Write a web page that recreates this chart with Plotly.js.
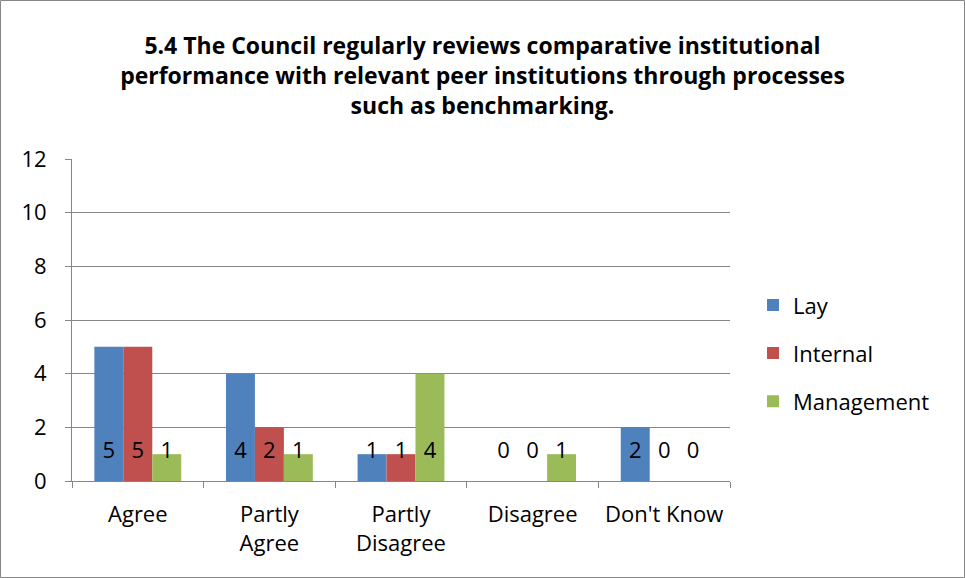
<!DOCTYPE html>
<html>
<head>
<meta charset="utf-8">
<script src="https://cdn.plot.ly/plotly-3.0.1.min.js"></script>
<style>html,body{margin:0;padding:0;background:#fff;}#chart{width:965px;height:578px;}</style>
</head>
<body>
<div id="chart"></div>
<script>
const categories = ["Agree", "Partly<br>Agree", "Partly<br>Disagree", "Disagree", "Don't Know"];
const seriesNames = ["Lay", "Internal", "Management"];
const lay = [5, 4, 1, 0, 2];
const internal = [5, 2, 1, 0, 0];
const management = [1, 1, 4, 1, 0];
const yTicks = [0, 2, 4, 6, 8, 10, 12];
const titleText = "5.4 The Council regularly reviews comparative institutional<br>performance with relevant peer institutions through processes<br>such as benchmarking.";

const colors = ["#4F81BD", "#C0504D", "#9BBB59"];
const seriesValues = [lay, internal, management];
const FONT = "'Open Sans', Lato, sans-serif";
const LABEL_Y = 1.05;

const W = 965, H = 578;
const M = {l: 72, r: 235, t: 159, b: 97};
const pw = W - M.l - M.r, ph = H - M.t - M.b;

const traces = [];
seriesValues.forEach((vals, i) => {
  traces.push({
    type: "bar", name: seriesNames[i], x: categories, y: vals,
    marker: {color: colors[i], line: {width: 0}},
    offsetgroup: String(i), legendgroup: String(i),
    hoverinfo: "skip"
  });
});
seriesValues.forEach((vals, i) => {
  traces.push({
    type: "scatter", mode: "text", x: categories, y: vals.map(() => LABEL_Y),
    text: vals.map(String), textposition: "middle center",
    textfont: {family: FONT, size: 22, color: "#000"},
    offsetgroup: String(i), showlegend: false, hoverinfo: "skip", cliponaxis: false
  });
});

const layout = {
  width: W, height: H,
  margin: M,
  paper_bgcolor: "#fff", plot_bgcolor: "#fff",
  font: {family: FONT, size: 22, color: "#000"},
  title: {text: titleText, font: {family: FONT, size: 23, color: "#000", weight: "bold", lineposition: "none"},
          x: 0.5, xref: "container", xanchor: "center", y: 1 - 54/H, yanchor: "top", yref: "container"},
  barmode: "group", bargap: 0.34, bargroupgap: 0,
  scattermode: "group", scattergap: 0.34,
  xaxis: {
    type: "category", showgrid: false, showline: true, linecolor: "#868686", linewidth: 1,
    ticks: "outside", tickson: "boundaries", ticklen: 6, tickcolor: "#868686",
    tickfont: {family: FONT, size: 22, color: "#000"}, zeroline: false,
    ticklabelstandoff: 14, fixedrange: true
  },
  yaxis: {
    range: [0, 12], tickvals: yTicks, ticktext: yTicks.map(String),
    showgrid: true, gridcolor: "#868686", gridwidth: 1,
    showline: true, linecolor: "#868686", linewidth: 1,
    ticks: "outside", ticklen: 6, tickcolor: "#868686",
    tickfont: {family: FONT, size: 22, color: "#000"}, zeroline: false,
    ticklabelstandoff: 14, fixedrange: true
  },
  legend: {
    x: 1.035, xanchor: "left", y: 0.397, yanchor: "middle",
    font: {family: FONT, size: 22, color: "#000"},
    traceorder: "grouped", tracegroupgap: 16.5, itemwidth: 30,
    bgcolor: "rgba(0,0,0,0)"
  },
  shapes: [{
    type: "rect", xref: "paper", yref: "paper", layer: "above",
    x0: (0.5 - M.l) / pw, x1: (W - 0.5 - M.l) / pw,
    y0: -(H - 0.5 - M.t - ph) / ph, y1: 1 + (M.t - 0.5) / ph,
    line: {color: "#868686", width: 1}, fillcolor: "rgba(0,0,0,0)"
  }]
};

Plotly.newPlot("chart", traces, layout, {displayModeBar: false, staticPlot: true});
</script>
</body>
</html>
